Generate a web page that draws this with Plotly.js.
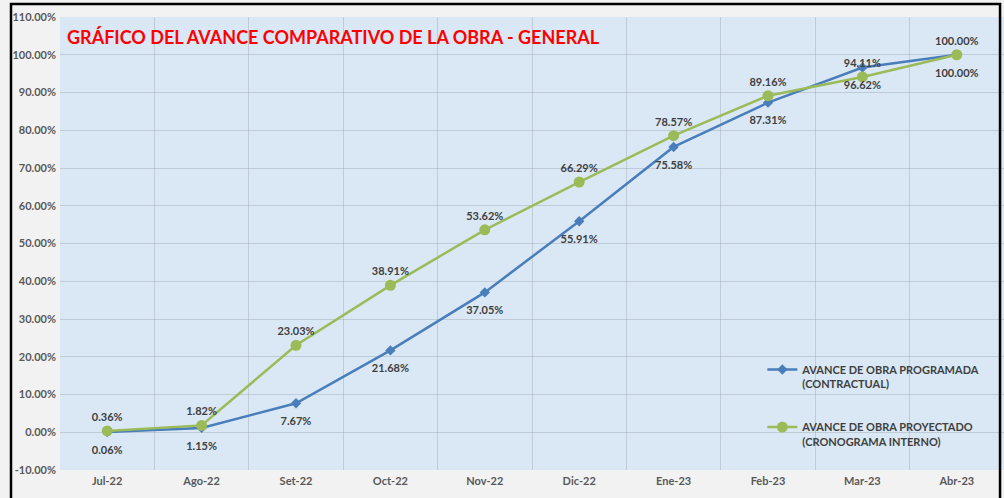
<!DOCTYPE html>
<html>
<head>
<meta charset="utf-8">
<script src="https://cdn.plot.ly/plotly-3.0.1.min.js"></script>
<style>html,body{margin:0;padding:0;background:#f2f2f2;}#chart{width:1004px;height:498px;}</style>
</head>
<body>
<div id="chart"></div>
<script>
const months = ["Jul-22","Ago-22","Set-22","Oct-22","Nov-22","Dic-22","Ene-23","Feb-23","Mar-23","Abr-23"];
const programada = [0.06, 1.15, 7.67, 21.68, 37.05, 55.91, 75.58, 87.31, 96.62, 100.00];
const proyectado = [0.36, 1.82, 23.03, 38.91, 53.62, 66.29, 78.57, 89.16, 94.11, 100.00];
const yTicks = [-10,0,10,20,30,40,50,60,70,80,90,100,110];
const seriesNames = ["AVANCE DE OBRA PROGRAMADA<br>(CONTRACTUAL)", "AVANCE DE OBRA PROYECTADO<br>(CRONOGRAMA INTERNO)"];
const chartTitle = "GRÁFICO DEL AVANCE COMPARATIVO DE LA OBRA - GENERAL";

const fmt = v => v.toFixed(2) + "%";
const FONT = "Lato, 'Open Sans', sans-serif";
const labelFont = {family: FONT, size: 11, color: "#404040", weight: 700};
const BLUE = "#4a7ebb", GREEN = "#9bbb59";

const traces = [
  {
    x: months, y: programada, name: seriesNames[0], legend: "legend",
    mode: "lines+markers",
    line: {color: BLUE, width: 2.5},
    marker: {symbol: "diamond", size: 8, color: BLUE},
    hoverinfo: "skip"
  },
  {
    x: months, y: proyectado, name: seriesNames[1], legend: "legend2",
    mode: "lines+markers",
    line: {color: GREEN, width: 2.5},
    marker: {symbol: "circle", size: 11, color: GREEN},
    hoverinfo: "skip"
  },
  {
    x: months, y: programada, showlegend: false,
    mode: "markers+text", text: programada.map(fmt), textposition: "bottom center",
    textfont: labelFont, cliponaxis: false,
    marker: {size: 20, color: "rgba(0,0,0,0)"}, hoverinfo: "skip"
  },
  {
    x: months, y: proyectado, showlegend: false,
    mode: "markers+text", text: proyectado.map(fmt), textposition: "top center",
    textfont: labelFont, cliponaxis: false,
    marker: {size: 10, color: "rgba(0,0,0,0)"}, hoverinfo: "skip"
  }
];

const legendCommon = {
  bgcolor: "rgba(0,0,0,0)", font: {family: FONT, size: 11, color: "#404040", weight: 700},
  xanchor: "left", yanchor: "top", valign: "top", itemwidth: 30
};

const layout = {
  width: 1004, height: 498,
  margin: {l: 60, r: 0, t: 17, b: 28},
  paper_bgcolor: "#f2f2f2",
  plot_bgcolor: "#dae8f5",
  showlegend: true,
  xaxis: {
    type: "category", range: [-0.5, 9.5], tickson: "boundaries",
    showgrid: true, gridcolor: "rgba(150,160,170,0.4)", gridwidth: 1,
    ticks: "", showline: false, zeroline: false, ticklabelstandoff: 3,
    tickfont: {family: FONT, size: 11, color: "#595959", weight: 700}
  },
  yaxis: {
    range: [-10, 110], tickvals: yTicks, ticktext: yTicks.map(v => v.toFixed(2) + "%"),
    showgrid: true, gridcolor: "rgba(150,160,170,0.4)", gridwidth: 1,
    zeroline: false, showline: false, ticks: "", ticklabelstandoff: 3,
    tickfont: {family: FONT, size: 11, color: "#595959", weight: 700}
  },
  legend: Object.assign({x: 0.744, y: 0.252}, legendCommon),
  legend2: Object.assign({x: 0.744, y: 0.125}, legendCommon),
  annotations: [{
    text: chartTitle, xref: "paper", yref: "paper", x: 0.005, y: 0.956,
    xanchor: "left", yanchor: "middle", showarrow: false,
    font: {family: FONT, size: 18, color: "#ff0000", weight: 700}
  }],
  shapes: [{
    type: "rect", xref: "paper", yref: "paper",
    x0: -0.0519, x1: 0.9958, y0: -0.08, y1: 1.0287,
    line: {color: "#000000", width: 2.5}, fillcolor: "rgba(0,0,0,0)", layer: "above"
  }]
};

Plotly.newPlot("chart", traces, layout, {displayModeBar: false, staticPlot: true});
</script>
</body>
</html>
